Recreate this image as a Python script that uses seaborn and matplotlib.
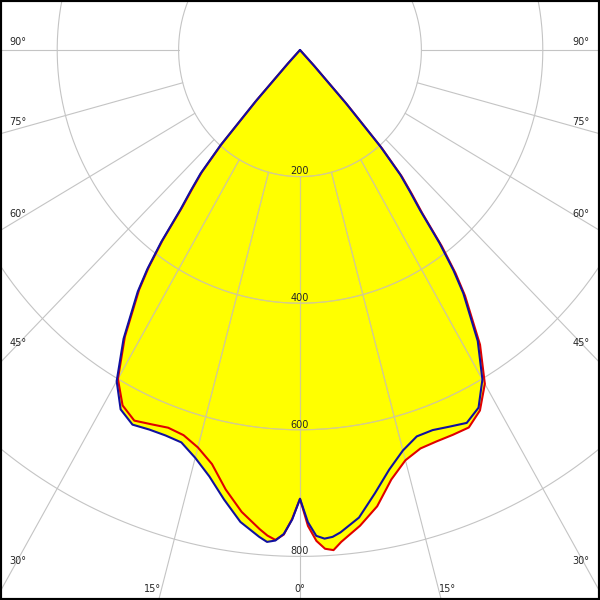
import numpy as np
import pandas as pd
import matplotlib
matplotlib.use("Agg")
import matplotlib.pyplot as plt
import seaborn as sns

# gamma angles (deg) and intensities (cd/klm)
gamma = [0, 1, 2, 3, 4, 5, 7.5, 10, 12.5, 15, 17.5, 20, 22.5, 25, 27.5, 30,
         32.5, 35, 36, 37, 38, 39, 40, 41, 42, 43, 45]
c180 = [709, 742, 765, 776, 779, 772, 752, 721, 690, 667, 650, 648, 649, 653, 640, 604,
        541, 466, 428, 380, 320, 286, 255, 200, 110, 30, 0]
c0 = [711, 746, 768, 773, 771, 765, 745, 711, 679, 655, 640, 639, 644, 650, 637, 601,
      545, 469, 430, 382, 322, 288, 257, 202, 112, 32, 0]
c270 = [709, 741, 766, 775, 769, 760, 736, 705, 670, 650, 638, 635, 640, 646, 633, 600,
        537, 462, 424, 376, 316, 282, 251, 196, 106, 28, 0]
c90 = [709, 752, 776, 789, 792, 780, 758, 732, 695, 671, 660, 658, 658, 658, 642, 609,
       552, 474, 436, 388, 327, 293, 261, 206, 116, 35, 0]

rings = [200, 400, 600, 800, 1000, 1200, 1400]
ring_labels = ["200", "400", "600", "800"]
spokes = [0, 15, 30, 45, 60, 75, 90]


def half(vals, side):
    g = np.radians(gamma)
    v = np.array(vals, dtype=float)
    return side * v * np.sin(g), -v * np.cos(g)


def plane(left, right, name):
    xl, yl = half(left, -1)
    xr, yr = half(right, 1)
    x = np.concatenate([xl[::-1], xr[1:]])
    y = np.concatenate([yl[::-1], yr[1:]])
    return pd.DataFrame({"x": x, "y": y, "plane": name})


df = pd.concat([plane(c270, c90, "C90-C270"), plane(c180, c0, "C0-C180")])

sns.set_style("white")
plt.rcParams["font.family"] = ["DejaVu Sans"]

fig = plt.figure(figsize=(6, 6), dpi=100)
ax = fig.add_axes([0, 0, 1, 1])

# px per cd: horizontal 0.607, vertical 0.633, centre at (300, 50) px
sx, sy = 0.607, 0.633
ax.set_xlim(-300 / sx, 300 / sx)
ax.set_ylim(-550 / sy, 50 / sy)


def draw_grid(color, z, clip=None):
    t = np.linspace(0, 2 * np.pi, 400)
    lines = []
    for r in rings:
        lines += ax.plot(r * np.sin(t), r * np.cos(t), color=color, lw=0.8, zorder=z)
    for a in spokes:
        for s in ([-1, 1] if a else [1]):
            ar = np.radians(a)
            rr = np.array([200, 1600])
            lines += ax.plot(s * rr * np.sin(ar), -rr * np.cos(ar), color=color, lw=0.8, zorder=z)
    if clip is not None:
        for ln in lines:
            ln.set_clip_path(clip)


draw_grid("#c4c4c4", 0)
for name, d in df.groupby("plane"):
    patch = ax.fill(d["x"], d["y"], color="#ffff00", lw=0, zorder=1)[0]
    draw_grid("#d4cc8c", 2, clip=patch)

sns.lineplot(data=df, x="x", y="y", hue="plane", hue_order=["C90-C270", "C0-C180"],
             palette={"C90-C270": "#e00000", "C0-C180": "#1010a0"}, sort=False,
             estimator=None, legend=False, linewidth=1.5, ax=ax, zorder=3)

for r, lab in zip(rings, ring_labels):
    ax.text(0, -(r - 3.5), lab, ha="center", va="baseline", fontsize=7, zorder=4)

# angle labels at the frame
px2x = lambda px: (px - 300) / sx
px2y = lambda py: -(py - 50) / sy
shift = {90: 8, 75: 7, 60: 6, 45: 1, 30: -2}
for a in [90, 75, 60, 45, 30]:
    ray_py = 50 + (282 / sx) * sy / np.tan(np.radians(a))
    for xp in [18, 581]:
        ax.text(px2x(xp), px2y(ray_py - shift[a]), f"{a}°", ha="center", va="center",
                fontsize=7, zorder=4)
for a in [15, 0]:
    ray_dx = (539 / sy) * np.tan(np.radians(a)) * sx
    if a == 0:
        ax.text(px2x(300), px2y(589), "0°", ha="center", va="center", fontsize=7)
    else:
        ax.text(px2x(300 - ray_dx), px2y(589), f"{a}°", ha="right", va="center", fontsize=7)
        ax.text(px2x(300 + ray_dx), px2y(589), f"{a}°", ha="left", va="center", fontsize=7)

ax.set_xticks([])
ax.set_yticks([])
ax.set_xlabel("")
ax.set_ylabel("")
for sp in ax.spines.values():
    sp.set_visible(True)
    sp.set_color("black")
    sp.set_linewidth(3)

fig.savefig("out.png", dpi=100)
